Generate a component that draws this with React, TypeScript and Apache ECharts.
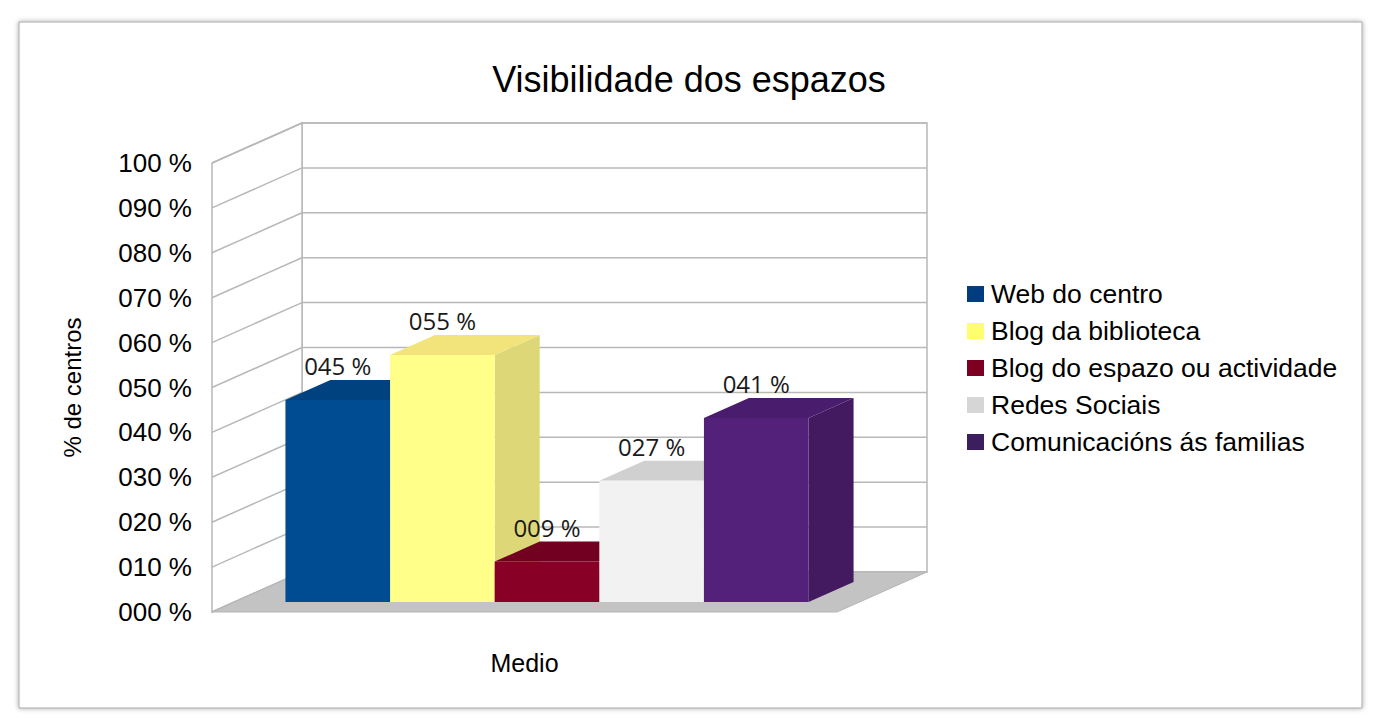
import React, { useEffect, useRef } from "react";
import * as echarts from "echarts";

const categories = ["Medio"];
const seriesNames = [
  "Web do centro",
  "Blog da biblioteca",
  "Blog do espazo ou actividade",
  "Redes Sociais",
  "Comunicacións ás familias",
];
const seriesValues = [45, 55, 9, 27, 41];
const yTicks = [0, 10, 20, 30, 40, 50, 60, 70, 80, 90, 100];

// style: face colors [front, top, side] and legend colors
const faceColors = [
  ["#004c93", "#00427f", "#003a70"],
  ["#ffff8a", "#f2e47a", "#ded778"],
  ["#880025", "#720020", "#5e001a"],
  ["#f2f2f2", "#d0d0d0", "#c4c4c4"],
  ["#53207a", "#4a1c6d", "#431a5f"],
];
const legendColors = ["#003c80", "#ffff6e", "#7e0021", "#d6d6d6", "#3c1d5e"];

const DX = 90;
const DY = -40;
const BAR_FRAC = 0.1674;
const WALL = "#b8b8b8";
const FONT = "'Liberation Sans', Arial, sans-serif";

const pct = (v: number) => String(v).padStart(3, "0") + " %";

export default function App() {
  const ref = useRef<HTMLDivElement>(null);
  useEffect(() => {
    const chart = echarts.init(ref.current!, null, { renderer: "svg" });

    const wallSeries: any = {
      type: "custom",
      name: "__walls",
      z: 1,
      clip: false,
      silent: true,
      data: [[0, 0]],
      encode: { x: 0, y: 1 },
      renderItem: (params: any, api: any) => {
        const c0 = api.coord([0, 0]);
        const w = api.size([1, 0])[0];
        const xL = c0[0] - w / 2;
        const xR = c0[0] + w / 2;
        const yB = c0[1];
        const yT = api.coord([0, 100])[1];
        const children: any[] = [];
        children.push({
          type: "rect",
          shape: { x: xL + DX, y: yT + DY, width: w, height: yB - yT },
          style: { fill: "#ffffff", stroke: WALL, lineWidth: 1.5 },
        });
        children.push({
          type: "polygon",
          shape: { points: [[xL, yB], [xL + DX, yB + DY], [xL + DX, yT + DY], [xL, yT]] },
          style: { fill: "#ffffff", stroke: WALL, lineWidth: 1.5 },
        });
        yTicks.forEach((t) => {
          const y = api.coord([0, t])[1];
          children.push({
            type: "line",
            shape: { x1: xL + DX, y1: y + DY, x2: xR + DX, y2: y + DY },
            style: { stroke: WALL, lineWidth: 1.5 },
          });
          children.push({
            type: "line",
            shape: { x1: xL, y1: y, x2: xL + DX, y2: y + DY },
            style: { stroke: WALL, lineWidth: 1.5 },
          });
        });
        children.push({
          type: "polygon",
          shape: { points: [[xL, yB], [xR, yB], [xR + DX, yB + DY], [xL + DX, yB + DY]] },
          style: { fill: "#c3c3c3", stroke: "#b5b5b5", lineWidth: 1 },
        });
        return { type: "group", children };
      },
    };

    const barSeries = seriesNames.map((name, i) => ({
      type: "custom",
      name,
      z: 2 + i,
      clip: false,
      itemStyle: { color: legendColors[i] },
      data: [[0, seriesValues[i]]],
      encode: { x: 0, y: 1 },
      renderItem: (params: any, api: any) => {
        const v = api.value(1);
        const c = api.coord([api.value(0), v]);
        const c0 = api.coord([api.value(0), 0]);
        const bw = api.size([1, 0])[0] * BAR_FRAC;
        const n = seriesNames.length;
        const x0 = c[0] - (n / 2) * bw + i * bw + DX * 0.25;
        const yTop = c[1] + DY * 0.25;
        const yBot = c0[1] + DY * 0.25;
        const ddx = DX * 0.5;
        const ddy = DY * 0.5;
        const [front, top, side] = faceColors[i];
        return {
          type: "group",
          children: [
            {
              type: "polygon",
              shape: { points: [[x0 + bw, yTop], [x0 + bw + ddx, yTop + ddy], [x0 + bw + ddx, yBot + ddy], [x0 + bw, yBot]] },
              style: { fill: side },
            },
            {
              type: "polygon",
              shape: { points: [[x0, yTop], [x0 + bw, yTop], [x0 + bw + ddx, yTop + ddy], [x0 + ddx, yTop + ddy]] },
              style: { fill: top },
            },
            {
              type: "rect",
              shape: { x: x0, y: yTop, width: bw, height: yBot - yTop },
              style: { fill: front },
            },
            {
              type: "text",
              x: x0 + bw / 2,
              y: yTop - 34.5,
              style: {
                text: pct(v),
                fill: "#1a1a1a",
                font: "24px 'Open Sans', sans-serif",
                align: "center",
                verticalAlign: "middle",
              },
            },
          ],
        };
      },
    }));

    chart.setOption({
      animation: false,
      backgroundColor: "#ffffff",
      textStyle: { fontFamily: FONT },
      title: {
        text: "Visibilidade dos espazos",
        left: "center",
        top: 56,
        textStyle: { fontSize: 36, fontWeight: "normal", color: "#000", fontFamily: FONT },
      },
      graphic: [
        {
          type: "rect",
          z: -10,
          shape: { x: 19, y: 22, width: 1343, height: 686 },
          style: { fill: "#ffffff", stroke: "#a8a8a8", lineWidth: 1, shadowBlur: 5, shadowColor: "rgba(0,0,0,0.35)" },
        },
      ],
      legend: {
        data: seriesNames,
        orient: "vertical",
        left: 962,
        top: 275.5,
        icon: "rect",
        itemWidth: 17,
        itemHeight: 16,
        itemGap: 10,
        textStyle: { fontSize: 26.5, lineHeight: 27, color: "#000", fontFamily: FONT, padding: [0, 0, 0, 2] },
      },
      grid: { left: 212, top: 163, right: 541, bottom: 109 },
      xAxis: {
        type: "category",
        data: categories,
        axisLine: { show: false },
        axisTick: { show: false },
        axisLabel: { margin: 38, fontSize: 25, color: "#000", fontFamily: FONT },
      },
      yAxis: {
        type: "value",
        min: 0,
        max: 100,
        interval: 10,
        name: "% de centros",
        nameLocation: "middle",
        nameRotate: 90,
        nameGap: 128,
        nameTextStyle: { fontSize: 24, color: "#000", fontFamily: FONT },
        axisLine: { show: false },
        axisTick: { show: false },
        splitLine: { show: false },
        axisLabel: { margin: 20, fontSize: 26, color: "#000", fontFamily: FONT, formatter: (v: number) => pct(v) },
      },
      series: [wallSeries, ...barSeries],
    });
    return () => chart.dispose();
  }, []);
  return <div ref={ref} style={{ position: "fixed", left: 0, top: 0, width: 1378, height: 721 }} />;
}
